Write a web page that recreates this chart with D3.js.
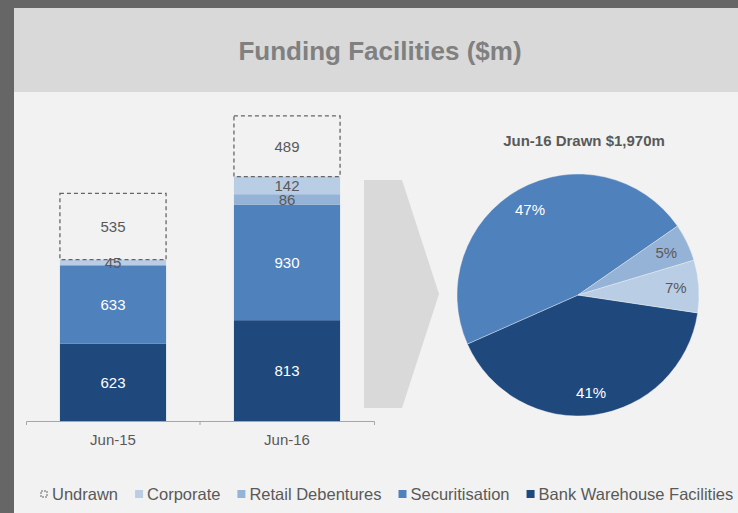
<!DOCTYPE html>
<html>
<head>
<meta charset="utf-8">
<script src="https://cdn.jsdelivr.net/npm/d3@7"></script>
<style>
	html, body { margin: 0; padding: 0; background: #f2f2f2; }
	svg { display: block; font-family: Arial, "Liberation Sans", sans-serif; }
</style>
</head>
<body>
<div id="chart"></div>
<script>
// data
const categories = ['Jun-15', 'Jun-16'];
const bankWarehouse = [623, 813];
const securitisation = [633, 930];
const retailDebentures = [0, 86];
const corporate = [45, 142];
const undrawn = [535, 489];

// pie: Jun-16 drawn split (%), clockwise from Bank Warehouse
const pieNames = ['Bank Warehouse Facilities', 'Securitisation', 'Retail Debentures', 'Corporate'];
const pieShares = [41, 47, 5, 7];
const pieTitle = 'Jun-16 Drawn $1,970m';

const chartTitle = 'Funding Facilities ($m)';
const legendOrder = ['Undrawn', 'Corporate', 'Retail Debentures', 'Securitisation', 'Bank Warehouse Facilities'];

(() => {
	const W = 738;
	const H = 513;

	const keys = ['Bank Warehouse Facilities', 'Securitisation', 'Retail Debentures', 'Corporate', 'Undrawn'];
	const colors = {
		'Bank Warehouse Facilities': '#1f497d',
		'Securitisation': '#4f81bd',
		'Retail Debentures': '#95b3d7',
		'Corporate': '#b9cde5',
		'Undrawn': 'none',
	};
	const labelColors = {
		'Bank Warehouse Facilities': '#ffffff',
		'Securitisation': '#ffffff',
		'Retail Debentures': '#595959',
		'Corporate': '#595959',
		'Undrawn': '#595959',
	};

	const table = categories.map((c, i) => ({
		cat: c,
		'Bank Warehouse Facilities': bankWarehouse[i],
		'Securitisation': securitisation[i],
		'Retail Debentures': retailDebentures[i],
		'Corporate': corporate[i],
		'Undrawn': undrawn[i],
	}));

	const svg = d3.select('#chart').append('svg')
		.attr('width', W)
		.attr('height', H);

	// slide frame
	svg.append('rect').attr('width', W).attr('height', H).attr('fill', '#f2f2f2');
	svg.append('rect').attr('x', 14).attr('y', 8).attr('width', W - 14).attr('height', 84).attr('fill', '#d9d9d9');
	svg.append('rect').attr('width', W).attr('height', 8).attr('fill', '#666666');
	svg.append('rect').attr('width', 14).attr('height', H).attr('fill', '#666666');

	svg.append('text')
		.attr('x', 380)
		.attr('y', 60)
		.attr('text-anchor', 'middle')
		.style('font-size', '26px')
		.style('font-weight', 'bold')
		.style('fill', '#808080')
		.text(chartTitle);

	// stacked bars
	const x = d3.scaleBand()
		.domain(categories)
		.range([26, 374])
		.paddingInner(0.39)
		.paddingOuter(0.195);
	const y = d3.scaleLinear()
		.domain([0, 2500])
		.range([421, 111]);

	const series = d3.stack().keys(keys)(table);

	const groups = svg.selectAll('.series')
		.data(series)
		.enter().append('g')
			.attr('class', 'series');

	groups.selectAll('rect')
		.data(s => s.filter(d => d[1] > d[0]).map(d => ({ key: s.key, d })))
		.enter().append('rect')
			.attr('x', p => x(p.d.data.cat))
			.attr('y', p => y(p.d[1]))
			.attr('width', x.bandwidth())
			.attr('height', p => y(p.d[0]) - y(p.d[1]))
			.attr('fill', p => colors[p.key])
			.attr('stroke', p => (p.key === 'Undrawn' ? '#666666' : 'none'))
			.attr('stroke-width', 1.3)
			.attr('stroke-dasharray', p => (p.key === 'Undrawn' ? '4,3' : null));

	groups.selectAll('text')
		.data(s => s.filter(d => d[1] > d[0]).map(d => ({ key: s.key, d })))
		.enter().append('text')
			.attr('x', p => x(p.d.data.cat) + x.bandwidth() / 2)
			.attr('y', p => (y(p.d[0]) + y(p.d[1])) / 2)
			.attr('dy', '.36em')
			.attr('text-anchor', 'middle')
			.style('font-size', '15px')
			.style('fill', p => labelColors[p.key])
			.text(p => p.d[1] - p.d[0]);

	// category axis
	const xAxis = d3.axisBottom(x)
		.tickSize(0)
		.tickSizeOuter(4)
		.tickPadding(13);
	const axisG = svg.append('g')
		.attr('transform', `translate(0, ${y(0)})`)
		.call(xAxis);
	axisG.select('.domain').attr('stroke', '#a6a6a6');
	axisG.selectAll('.tick text')
		.style('font-size', '15px')
		.style('font-family', 'Arial, "Liberation Sans", sans-serif')
		.style('fill', '#595959');
	const step = x.step();
	categories.slice(1).forEach((c) => {
		const bx = x(c) + x.bandwidth() / 2 - step / 2;
		axisG.append('line')
			.attr('x1', bx).attr('x2', bx)
			.attr('y1', 0).attr('y2', 4)
			.attr('stroke', '#a6a6a6');
	});

	// chevron arrow
	const arrow = [[364, 180], [402, 180], [439, 294], [402, 408], [364, 408]];
	svg.append('path')
		.attr('d', d3.line()(arrow) + 'Z')
		.attr('fill', '#d9d9d9');

	// pie
	const cx = 578;
	const cy = 295;
	const r = 121;
	const pieColors = pieNames.map(n => colors[n]);
	const pieLabelColors = pieNames.map(n => labelColors[n]);
	const start = 98.5 * Math.PI / 180;
	const pie = d3.pie().sort(null).startAngle(start).endAngle(start + 2 * Math.PI);
	const arcs = pie(pieShares);
	const arc = d3.arc().innerRadius(0).outerRadius(r);
	const labelArc = d3.arc().innerRadius(98).outerRadius(98);

	const pieG = svg.append('g').attr('transform', `translate(${cx}, ${cy})`);
	pieG.selectAll('path')
		.data(arcs)
		.enter().append('path')
			.attr('d', arc)
			.attr('fill', (d, i) => pieColors[i])
			.attr('stroke', '#f2f2f2')
			.attr('stroke-width', 0.4);
	pieG.selectAll('text')
		.data(arcs)
		.enter().append('text')
			.attr('transform', d => `translate(${labelArc.centroid(d)})`)
			.attr('dy', '.36em')
			.attr('text-anchor', 'middle')
			.style('font-size', '15px')
			.style('fill', (d, i) => pieLabelColors[i])
			.text(d => `${d.data}%`);

	svg.append('text')
		.attr('x', 584)
		.attr('y', 146)
		.attr('text-anchor', 'middle')
		.style('font-size', '15px')
		.style('font-weight', 'bold')
		.style('fill', '#595959')
		.text(pieTitle);

	// legend
	const legend = svg.append('g').attr('transform', 'translate(0, 494)');
	let lx = 40;
	legendOrder.forEach((name) => {
		const g = legend.append('g').attr('transform', `translate(${lx}, 0)`);
		if (name === 'Undrawn') {
			g.append('rect')
				.attr('x', 1).attr('y', -3).attr('width', 6).attr('height', 6)
				.attr('fill', 'none')
				.attr('stroke', '#666666')
				.attr('stroke-width', 1)
				.attr('stroke-dasharray', '2,1');
		} else {
			g.append('rect')
				.attr('x', 0).attr('y', -4).attr('width', 8).attr('height', 8)
				.attr('fill', colors[name]);
		}
		const t = g.append('text')
			.attr('x', 12)
			.attr('dy', '.36em')
			.style('font-size', '16.5px')
			.style('fill', '#595959')
			.text(name);
		lx += 12 + t.node().getComputedTextLength() + 17;
	});
})();
</script>
</body>
</html>
